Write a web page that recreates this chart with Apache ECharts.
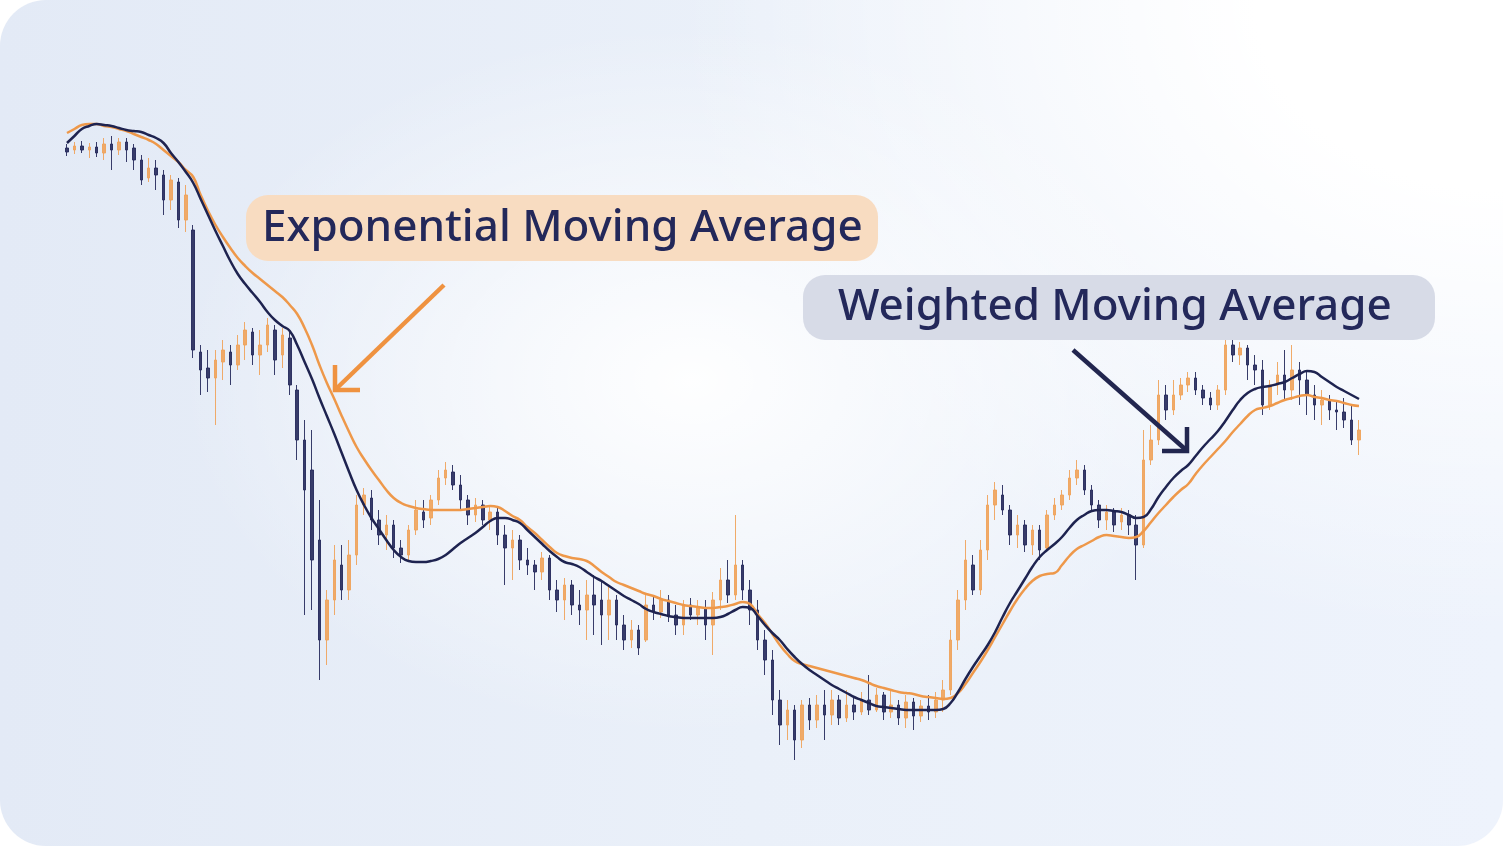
<!DOCTYPE html>
<html>
<head>
<meta charset="utf-8">
<script src="https://cdn.jsdelivr.net/npm/echarts@6/dist/echarts.min.js"></script>
<style>
html,body{margin:0;padding:0;width:1503px;height:846px;background:#ffffff;overflow:hidden;}
#card{position:absolute;left:0;top:0;width:1503px;height:846px;border-radius:46px;
background:
 radial-gradient(ellipse 34% 42% at 46% 45%, rgba(255,255,255,0.95) 0%, rgba(255,255,255,0) 100%),
 radial-gradient(ellipse 55% 75% at 100% 0%, #ffffff 0%, #ffffff 30%, rgba(255,255,255,0) 100%),
 linear-gradient(90deg, #e3eaf6 0%, #eaf0f9 50%, #eef3fc 100%);}
#chart{position:absolute;left:0;top:0;width:1503px;height:846px;}
</style>
</head>
<body>
<div id="card"></div>
<div id="chart"></div>
<script>
// Values are read in screen-height units (larger = lower on the picture; y axis is inverted)
// Each candle: [open, close, low, high]
const candles = [
[148,152,144,156],[150,146,142,154],[146,150,141,153],[150,147,143,158],[147,153,142,157],
[153,144,138,160],[144,150,136,170],[150,142,138,155],[142,150,138,162],[148,160,144,170],
[160,180,155,185],[178,168,158,182],[168,175,160,190],[175,200,170,215],[200,180,175,210],
[182,220,178,228],[220,195,185,232],[230,350,225,358],[352,370,345,395],[368,378,350,392],
[378,360,350,425],[362,350,340,380],[352,365,345,385],[365,345,335,370],[345,330,322,360],
[332,355,328,365],[355,345,330,375],[345,325,318,352],[330,360,325,375],[355,335,328,368],
[338,385,330,395],[390,440,385,460],[440,490,420,615],[470,560,430,610],[540,640,500,680],
[640,600,590,665],[600,560,545,615],[565,590,545,600],[590,555,540,600],[555,505,495,565],
[505,495,488,515],[498,520,490,530],[520,535,510,545],[535,525,515,550],[525,548,520,558],
[548,555,540,563],[555,530,525,560],[530,510,500,535],[512,520,500,528],[518,500,495,525],
[500,478,470,505],[478,470,462,485],[472,485,465,490],[485,500,475,510],[500,515,495,525],
[515,505,498,522],[505,520,500,525],[520,512,505,530],[512,535,508,545],[535,548,525,585],
[548,540,530,580],[540,560,535,570],[560,565,548,575],[565,572,560,590],[572,558,552,580],
[558,590,555,600],[590,600,580,612],[600,585,578,620],[585,605,580,615],[605,610,590,625],
[610,595,580,640],[595,605,575,635],[600,615,580,645],[615,600,585,640],[600,625,595,640],
[625,640,615,650],[640,630,620,648],[630,648,625,655],[640,605,595,642],[605,612,595,620],
[612,600,590,618],[600,615,595,622],[615,625,605,635],[625,605,600,635],[605,615,598,620],
[615,608,600,625],[608,625,600,640],[625,600,592,655],[600,580,568,610],[580,595,560,603],
[595,565,515,600],[565,590,560,600],[590,610,580,625],[610,640,600,650],[640,660,630,675],
[660,700,650,715],[700,725,690,745],[725,710,700,740],[710,740,705,760],[740,705,700,748],
[705,720,698,730],[720,705,695,728],[705,715,690,740],[715,700,690,725],[700,718,695,725],
[718,705,690,722],[705,712,698,720],[712,700,692,715],[700,710,675,715],[710,695,688,712],
[695,712,692,720],[712,705,690,718],[705,718,700,725],[718,702,695,728],[702,716,698,730],
[716,706,700,722],[706,712,695,720],[712,700,692,718],[700,690,680,712],[690,640,630,695],
[640,600,590,650],[600,560,540,610],[565,590,555,595],[590,550,540,595],[550,505,495,560],
[505,490,482,520],[495,510,485,515],[510,535,505,545],[535,525,515,548],[525,545,520,552],
[545,530,525,555],[530,550,525,560],[548,515,510,552],[515,505,498,520],[505,495,490,510],
[495,478,470,500],[478,470,460,485],[470,490,465,495],[490,505,485,512],[505,520,500,528],
[520,512,505,530],[512,525,508,532],[522,515,508,530],[515,525,510,535],[525,545,515,580],
[545,460,430,548],[460,440,425,465],[440,395,380,445],[395,410,385,420],[410,395,380,415],
[395,385,378,400],[385,378,372,392],[378,390,372,395],[390,398,385,405],[398,405,392,410],
[405,390,385,410],[390,345,335,395],[345,355,340,362],[355,348,342,365],[348,365,345,380],
[365,370,355,385],[370,405,360,415],[405,385,380,410],[385,375,362,395],[375,390,350,400],
[390,370,345,400],[370,380,362,405],[380,395,370,415],[395,405,385,420],[405,400,390,425],
[400,410,395,420],[410,412,400,430],[412,420,398,428],[420,440,405,445],[440,430,420,455]
];

const emaVals = [
133,129,125,124,124,126,127,129,131,134,
137,140,144,150,156,162,170,177,195,211,
225,237,248,258,266,273,279,285,291,297,
305,314,328,345,365,383,399,416,432,447,
459,470,480,490,498,503,506,508,509,510,
510,510,510,510,509,508,507,506,507,511,
516,520,527,533,540,547,553,556,558,559,
561,566,572,577,582,585,588,591,594,596,
599,601,603,605,606,607,608,608,607,606,
604,602,604,614,623,634,645,654,661,664,
666,668,670,672,674,676,678,680,683,686,
688,690,692,693,694,696,697,698,699,698,
693,684,673,662,650,637,624,611,599,589,
581,576,574,573,565,556,549,545,541,537,
535,536,537,538,537,531,522,513,505,497,
490,484,474,465,457,449,441,432,424,416,
410,408,406,403,400,398,396,395,397,398,
400,401,403,405,406
];

const wmaVals = [
143,136,129,126,124,125,126,128,130,131,
132,135,138,143,153,162,172,183,199,215,
231,246,261,274,284,293,302,312,320,326,
331,345,362,379,398,416,434,453,472,490,
505,518,529,540,550,557,561,562,562,561,
559,555,549,543,538,533,527,521,518,518,
520,523,530,537,544,551,557,562,564,567,
572,577,581,586,591,596,600,604,609,612,
614,616,617,618,618,618,618,618,617,614,
610,607,608,616,625,633,640,649,657,664,
670,675,680,685,689,693,697,700,703,706,
707,708,709,710,710,710,710,710,709,703,
692,679,667,656,645,632,617,603,591,579,
567,557,550,544,537,528,520,515,511,510,
510,511,512,515,518,517,509,497,487,478,
471,465,456,447,439,431,421,410,400,393,
389,387,386,384,382,378,374,371,372,377,
382,387,391,395,399
];

const emaLabel = 'Exponential Moving Average';
const wmaLabel = 'Weighted Moving Average';

const categories = candles.map((_, i) => String(i + 1));

const ORANGE = '#F0A259';
const NAVY = '#23285A';
const FONT = '"Noto Sans", "Open Sans", sans-serif';

const chart = echarts.init(document.getElementById('chart'), null, {renderer: 'canvas'});
const step = (1359 - 67) / (candles.length - 1);
const gridLeft = 67 - step / 2;
const gridWidth = step * candles.length;

chart.setOption({
  animation: false,
  backgroundColor: 'transparent',
  grid: {left: gridLeft, width: gridWidth, top: 0, bottom: 0},
  xAxis: {type: 'category', data: categories, boundaryGap: true, show: false},
  yAxis: {type: 'value', min: 0, max: 846, inverse: true, show: false, splitLine: {show: false}},
  series: [
    {
      type: 'candlestick',
      data: candles,
      barWidth: 3,
      itemStyle: {
        color: NAVY, color0: ORANGE,
        borderColor: NAVY, borderColor0: ORANGE,
        borderWidth: 1, opacity: 0.9
      },
      z: 2
    },
    {
      type: 'line', data: emaVals, smooth: 0.5, symbol: 'none',
      lineStyle: {color: '#EE984A', width: 2.5}, z: 3
    },
    {
      type: 'line', data: wmaVals, smooth: 0.5, symbol: 'none',
      lineStyle: {color: '#1E2350', width: 2.5}, z: 4
    }
  ],
  graphic: [
    {type: 'rect', shape: {x: 246, y: 195, width: 632, height: 66, r: 22},
     style: {fill: '#F8DCC1'}, z: 10},
    {type: 'text', x: 262, y: 228, z: 11,
     style: {text: emaLabel, fill: NAVY, fontSize: 44, fontWeight: 500, fontFamily: FONT,
             align: 'left', verticalAlign: 'middle'}},
    {type: 'rect', shape: {x: 803, y: 275, width: 632, height: 65, r: 22},
     style: {fill: '#D7DBE7'}, z: 10},
    {type: 'text', x: 838, y: 307, z: 11,
     style: {text: wmaLabel, fill: NAVY, fontSize: 44, fontWeight: 500, fontFamily: FONT,
             align: 'left', verticalAlign: 'middle'}},
    {type: 'line', shape: {x1: 444, y1: 285, x2: 337, y2: 388}, z: 12,
     style: {stroke: '#EF9240', lineWidth: 4.5, lineCap: 'butt'}},
    {type: 'polyline', shape: {points: [[335, 365], [335, 390], [360, 390]]}, z: 12,
     style: {stroke: '#EF9240', lineWidth: 4.5, fill: null, lineJoin: 'miter'}},
    {type: 'line', shape: {x1: 1073, y1: 350, x2: 1185, y2: 449}, z: 12,
     style: {stroke: '#22264F', lineWidth: 4.5, lineCap: 'butt'}},
    {type: 'polyline', shape: {points: [[1187, 427], [1187, 451], [1162, 451]]}, z: 12,
     style: {stroke: '#22264F', lineWidth: 4.5, fill: null, lineJoin: 'miter'}}
  ]
});
</script>
</body>
</html>
